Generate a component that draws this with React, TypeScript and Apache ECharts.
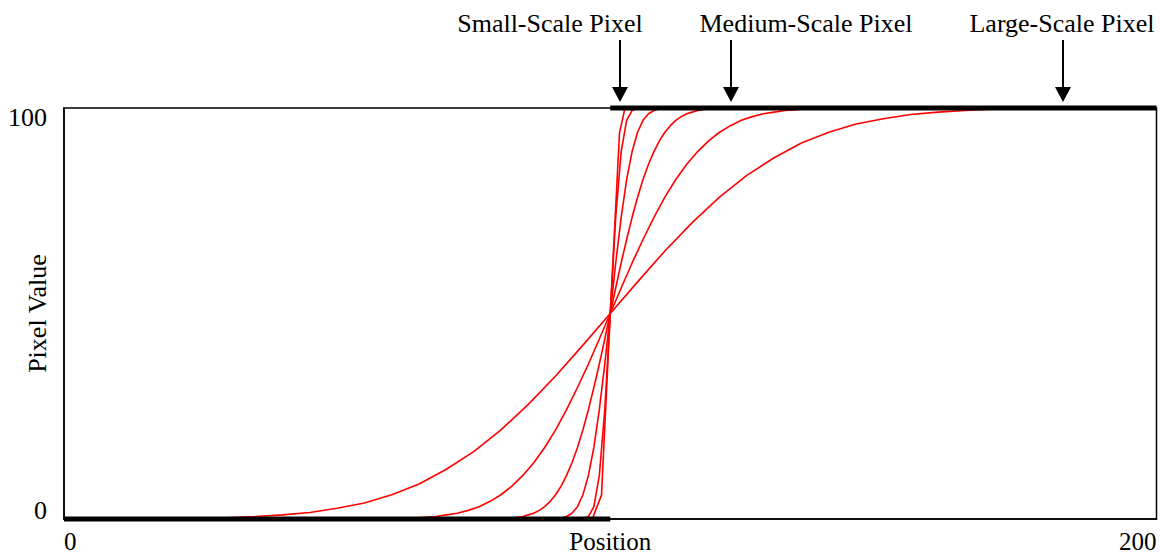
import React, { useEffect, useRef } from "react";
import * as echarts from "echarts";

// Ideal step edge (black): low side and high side
const edgeLow: [number, number][] = [[0, 0], [100, 0]];
const edgeHigh: [number, number][] = [[100, 100], [200, 100]];

// Blurred edge profiles (red): [position, pixel value]
const curveA: [number, number][] = [
  [30, 0.3], [35, 0.6], [40, 1.0], [45, 1.6], [50, 2.6], [55, 3.9], [60, 5.9], [65, 8.5],
  [70, 12.1], [75, 16.4], [80, 21.7], [85, 27.9], [90, 34.8], [95, 42.3], [100, 50],
  [105, 57.7], [110, 65.2], [115, 72.1], [120, 78.3], [125, 83.6], [130, 87.9], [135, 91.5],
  [140, 94.1], [145, 96.1], [150, 97.4], [155, 98.4], [160, 99.0], [165, 99.4], [170, 99.7],
];
const curveB: [number, number][] = [
  [64, 0.2], [66, 0.4], [68, 0.6], [70, 1.0], [72, 1.4], [74, 2.1], [76, 3.0], [78, 4.3],
  [80, 5.9], [82, 8.0], [84, 10.6], [86, 13.7], [88, 17.4], [90, 21.7], [92, 26.6],
  [94, 32.0], [96, 37.7], [98, 43.8], [100, 50], [102, 56.2], [104, 62.3], [106, 68.0],
  [108, 73.4], [110, 78.3], [112, 82.6], [114, 86.3], [116, 89.4], [118, 92.0], [120, 94.1],
  [122, 95.7], [124, 97.0], [126, 97.9], [128, 98.6], [130, 99.0], [132, 99.4], [134, 99.6],
  [136, 99.8],
];
const curveC: [number, number][] = [
  [82, 0.2], [83, 0.4], [84, 0.6], [85, 1.0], [86, 1.4], [87, 2.1], [88, 3.0], [89, 4.3],
  [90, 5.9], [91, 8.0], [92, 10.6], [93, 13.7], [94, 17.4], [95, 21.7], [96, 26.6],
  [97, 32.0], [98, 37.7], [99, 43.8], [100, 50], [101, 56.2], [102, 62.3], [103, 68.0],
  [104, 73.4], [105, 78.3], [106, 82.6], [107, 86.3], [108, 89.4], [109, 92.0], [110, 94.1],
  [111, 95.7], [112, 97.0], [113, 97.9], [114, 98.6], [115, 99.0], [116, 99.4], [117, 99.6],
  [118, 99.8],
];
const curveD: [number, number][] = [
  [91, 0.2], [92, 0.6], [93, 1.4], [94, 3.0], [95, 5.9], [96, 10.6], [97, 17.4], [98, 26.6],
  [99, 37.7], [100, 50], [101, 62.3], [102, 73.4], [103, 82.6], [104, 89.4], [105, 94.1],
  [106, 97.0], [107, 98.6], [108, 99.4], [109, 99.8],
];
const curveE: [number, number][] = [
  [95, 0.1], [96, 0.6], [97, 3.0], [98, 10.6], [99, 26.6], [100, 50], [101, 73.4],
  [102, 89.4], [103, 97.0], [104, 99.4], [105, 99.9],
];
const curveF: [number, number][] = [
  [96.7, 0], [98.4, 5.8], [100, 50], [101.7, 94], [102.7, 100],
];
const curves = [curveA, curveB, curveC, curveD, curveE, curveF];

const xTicks = [0, 200];
const yTicks = [0, 100];
const annotations = ["Small-Scale Pixel", "Medium-Scale Pixel", "Large-Scale Pixel"];

const FONT = "'Liberation Serif', 'Times New Roman', serif";

export default function App() {
  const ref = useRef<HTMLDivElement>(null);
  useEffect(() => {
    if (!ref.current) return;
    const chart = echarts.init(ref.current, undefined, { renderer: "svg" });

    const annPos = [
      { tx: 550, ax: 620 },
      { tx: 806, ax: 731 },
      { tx: 1062, ax: 1063 },
    ];
    const graphics: any[] = [];
    annotations.forEach((label, i) => {
      const p = annPos[i];
      graphics.push({
        type: "text",
        x: p.tx,
        y: 23,
        style: {
          text: label,
          font: `26px ${FONT}`,
          fill: "#000",
          align: "center",
          verticalAlign: "middle",
        },
      });
      graphics.push({
        type: "line",
        shape: { x1: p.ax, y1: 40, x2: p.ax, y2: 92 },
        style: { stroke: "#000", lineWidth: 2 },
      });
      graphics.push({
        type: "polygon",
        shape: { points: [[p.ax - 8, 87], [p.ax + 8, 87], [p.ax, 102]] },
        style: { fill: "#000" },
      });
    });

    const series: any[] = curves.map((c) => ({
      type: "line",
      data: c,
      showSymbol: false,
      symbol: "none",
      clip: false,
      lineStyle: { color: "#ff0000", width: 1.6 },
      z: 2,
    }));
    [edgeLow, edgeHigh].forEach((e) =>
      series.push({
        type: "line",
        data: e,
        showSymbol: false,
        symbol: "none",
        clip: false,
        lineStyle: { color: "#000", width: 5, cap: "butt" },
        z: 3,
      })
    );

    chart.setOption({
      animation: false,
      backgroundColor: "#fff",
      grid: {
        left: 64,
        right: 3.5,
        top: 108,
        bottom: 36,
        containLabel: false,
        outerBoundsMode: "none",
        show: true,
        borderColor: "#000",
        borderWidth: 1.5,
      },
      xAxis: {
        type: "value",
        min: xTicks[0],
        max: xTicks[1],
        interval: 200,
        name: "Position",
        nameLocation: "middle",
        nameGap: 10,
        nameMoveOverlap: false,
        nameTextStyle: {
          fontSize: 25,
          lineHeight: 25,
          fontFamily: FONT,
          color: "#000",
          verticalAlign: "top",
        },
        axisLine: { show: true, lineStyle: { color: "#000", width: 1.5 } },
        axisTick: { show: false },
        splitLine: { show: false },
        axisLabel: {
          fontSize: 25,
          lineHeight: 25,
          fontFamily: FONT,
          color: "#000",
          margin: 10,
          alignMinLabel: "left",
          alignMaxLabel: "right",
        },
      },
      yAxis: {
        type: "value",
        min: yTicks[0],
        max: yTicks[1],
        interval: 100,
        name: "Pixel Value",
        nameLocation: "middle",
        nameRotate: 90,
        nameGap: 14,
        nameMoveOverlap: false,
        nameTextStyle: { fontSize: 26, fontFamily: FONT, color: "#000", verticalAlign: "bottom" },
        axisLine: { show: true, lineStyle: { color: "#000", width: 1.5 } },
        axisTick: { show: false },
        splitLine: { show: false },
        axisLabel: {
          fontSize: 26,
          lineHeight: 18,
          fontFamily: FONT,
          color: "#000",
          margin: 17,
          verticalAlignMinLabel: "bottom",
          verticalAlignMaxLabel: "top",
        },
      },
      graphic: graphics,
      series,
    });
    return () => chart.dispose();
  }, []);
  return (
    <div
      ref={ref}
      style={{ position: "fixed", left: 0, top: 0, width: 1160, height: 555, background: "#fff" }}
    />
  );
}
